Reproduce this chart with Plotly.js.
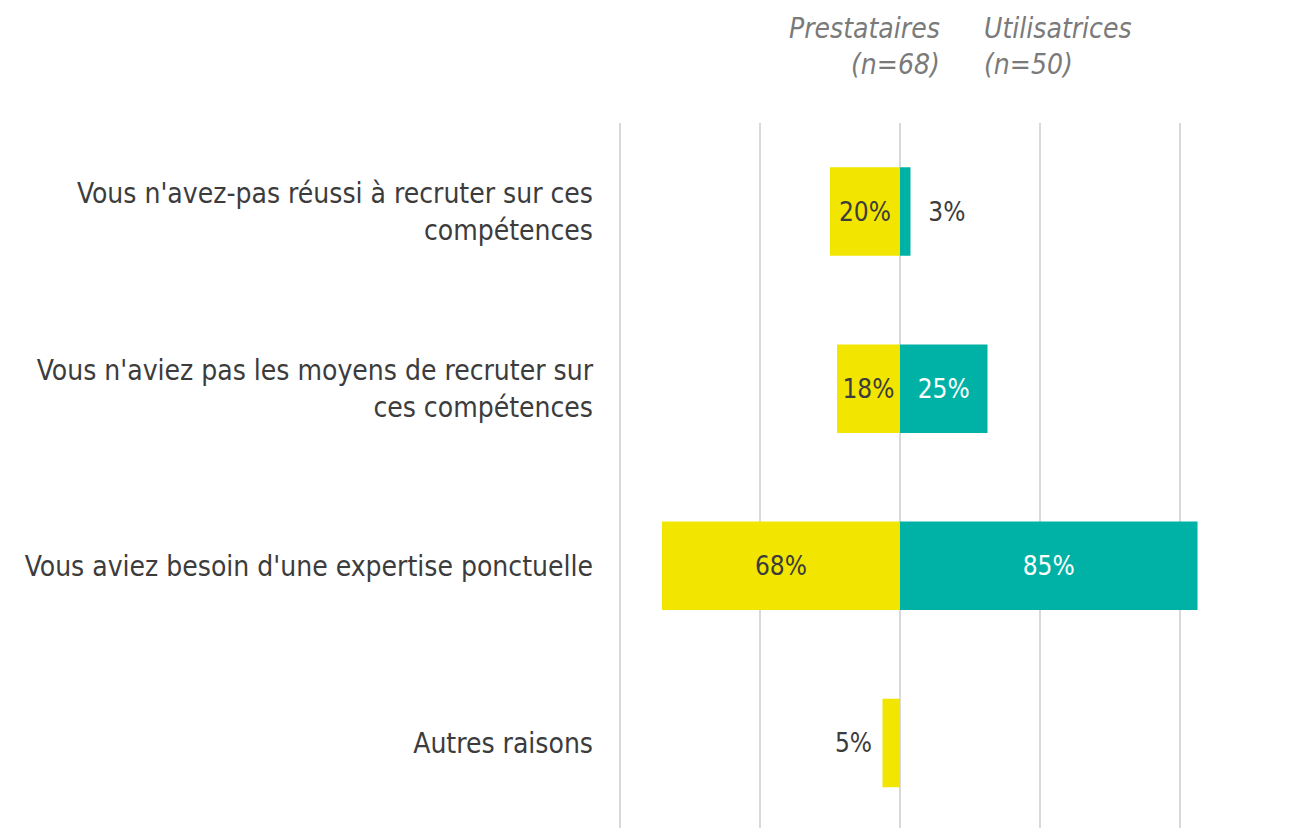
<!DOCTYPE html>
<html>
<head>
<meta charset="utf-8">
<script src="https://cdn.plot.ly/plotly-3.0.1.min.js"></script>
<style>
html,body{margin:0;padding:0;background:#fff;}
#chart{width:1307px;height:828px;}
</style>
</head>
<body>
<div id="chart"></div>
<script>
const categories = [
  "Vous n'avez-pas réussi à recruter sur ces<br>compétences",
  "Vous n'aviez pas les moyens de recruter sur<br>ces compétences",
  "Vous aviez besoin d'une expertise ponctuelle",
  "Autres raisons"
];
const prestataires = [20, 18, 68, 5];
const utilisatrices = [3, 25, 85, 0];
const seriesNames = ["Prestataires<br>(n=68)", "Utilisatrices<br>(n=50)"];

const FONT = "'DejaVu Sans Condensed', 'Liberation Sans Narrow', sans-serif";
const DARK = "#3c3c3c";
const YELLOW = "#f2e600";
const TEAL = "#00b2a5";
const SMALL = 8;

function labels(vals, side) {
  return vals.map(v => {
    if (v === 0) return "";
    const t = v + "%";
    if (v < SMALL) return side < 0 ? t + "\u00a0" : "\u00a0\u00a0" + t;
    return t;
  });
}

const traces = [
  {
    type: "bar", orientation: "h", name: seriesNames[0],
    y: categories, x: prestataires.map(v => -v),
    text: labels(prestataires, -1), textposition: "auto", insidetextanchor: "middle",
    insidetextfont: {family: FONT, size: 26, color: DARK},
    outsidetextfont: {family: FONT, size: 26, color: DARK},
    marker: {color: YELLOW, line: {width: 0}},
    width: 0.5, hoverinfo: "none", cliponaxis: false
  },
  {
    type: "bar", orientation: "h", name: seriesNames[1],
    y: categories, x: utilisatrices,
    text: labels(utilisatrices, 1), textposition: "auto", insidetextanchor: "middle",
    insidetextfont: {family: FONT, size: 26, color: "#ffffff"},
    outsidetextfont: {family: FONT, size: 26, color: DARK},
    marker: {color: TEAL, line: {width: 0}},
    width: 0.5, hoverinfo: "none", cliponaxis: false
  }
];

const layout = {
  width: 1307, height: 828,
  margin: {l: 616, r: 92, t: 123, b: 0},
  paper_bgcolor: "#ffffff", plot_bgcolor: "#ffffff",
  barmode: "relative",
  showlegend: false,
  font: {family: FONT, color: DARK, size: 28},
  xaxis: {
    range: [-81.14, 90], tickmode: "array", tickvals: [-80, -40, 0, 40, 80],
    showticklabels: false, showgrid: true, gridcolor: "#d9d9d9", gridwidth: 2,
    zeroline: true, zerolinecolor: "#d9d9d9", zerolinewidth: 2,
    showline: false, fixedrange: true
  },
  yaxis: {
    type: "category", range: [3.48, -0.5],
    showgrid: false, zeroline: false, showline: false,
    ticks: "", ticklabelstandoff: 22,
    tickfont: {family: FONT, size: 28, color: DARK}
  },
  annotations: [
    {xref: "x", yref: "paper", x: 0, y: 1, xanchor: "right", yanchor: "bottom",
     xshift: 42, yshift: 40, align: "right", showarrow: false, text: seriesNames[0],
     font: {family: FONT, size: 28, color: "#7a7a7a", style: "italic"}},
    {xref: "x", yref: "paper", x: 0, y: 1, xanchor: "left", yanchor: "bottom",
     xshift: 82, yshift: 40, align: "left", showarrow: false, text: seriesNames[1],
     font: {family: FONT, size: 28, color: "#7a7a7a", style: "italic"}}
  ]
};

Plotly.newPlot("chart", traces, layout, {displayModeBar: false, staticPlot: true});
</script>
</body>
</html>
